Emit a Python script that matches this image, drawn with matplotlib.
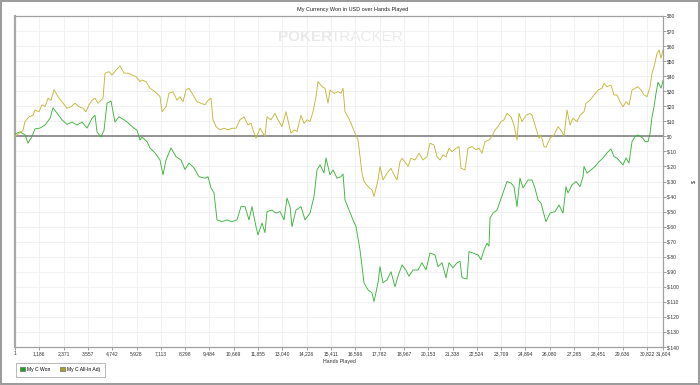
import matplotlib
matplotlib.use('Agg')
import matplotlib.pyplot as plt
from matplotlib.patches import Patch, Rectangle
from matplotlib.ticker import FixedLocator, FuncFormatter

plt.rcParams['font.family'] = ['Liberation Sans', 'DejaVu Sans']

# ---------------- data ----------------
won_hands = [1, 245, 489, 635, 830, 976, 1220, 1464, 1708, 1854, 2049, 2293, 2537, 2781, 3025,
             3268, 3512, 3756, 3903, 4000, 4195, 4342, 4488, 4683, 4878, 5073, 5317, 5512, 5756,
             5951, 6098, 6195, 6439, 6585, 6829, 7073, 7219, 7365, 7609, 7853, 8097, 8292, 8487,
             8731, 8975, 9268, 9414, 9560, 9707, 9853, 10097, 10340, 10584, 10828, 11023, 11218,
             11413, 11560, 11755, 11852, 12047, 12193, 12291, 12535, 12730, 12925, 13120, 13267,
             13413, 13510, 13706, 13950, 14145, 14389, 14584, 14730, 14877, 15072, 15169, 15364,
             15511, 15706, 15901, 15999, 16096, 16291, 16486, 16632, 16827, 16925, 17022, 17217,
             17412, 17510, 17705, 17802, 17948, 18143, 18338, 18534, 18680, 18875, 19070, 19216,
             19411, 19655, 19850, 20045, 20240, 20484, 20631, 20826, 21021, 21167, 21362, 21557,
             21703, 21801, 22045, 22142, 22337, 22581, 22728, 22874, 23020, 23118, 23167, 23313,
             23508, 23654, 23801, 23996, 24191, 24337, 24484, 24630, 24776, 25020, 25216, 25362,
             25508, 25654, 25801, 25898, 26093, 26337, 26532, 26728, 26874, 26972, 27166, 27361,
             27557, 27703, 27752, 27898, 28094, 28289, 28484, 28679, 28873, 29069, 29215, 29361,
             29508, 29654, 29800, 29947, 30093, 30239, 30386, 30484, 30630, 30728, 30874, 30972,
             31069, 31167, 31264, 31362, 31508, 31604]
won_values = [1.5, 3, 1, -4.5, 0, 5, 5.5, 7.5, 12, 19, 15.5, 11, 8, 9.5, 7.5,
              9.5, 5.5, 12, 14, 3, -0.5, 4, 22, 23.5, 9.5, 13, 11, 9, 6,
              4, -2.5, -0.5, -3.5, -7.7, -11, -15.7, -25.6, -15.7, -7.7, -13.5, -15.7, -22, -17.7,
              -21, -26.8, -27.8, -26.8, -34.3, -37.6, -55.5, -56.7, -55.5, -56.7, -55.5, -46.7, -46.7,
              -55.5, -46.7, -60, -65.5, -57.6, -64, -50, -49, -51, -50, -55.5, -41,
              -46.7, -60, -49, -46.7, -55.5, -51, -40, -22.3, -19, -24.3, -14.4, -25.6,
              -22.3, -27.8, -26.8, -25, -42.3, -49, -55.5, -60, -75.5, -86.6, -97.4, -102,
              -104, -109.8, -97.4, -86.6, -97.4, -95.4, -90, -100, -93, -85.4, -89, -93,
              -88.8, -88.8, -84, -88.8, -77.5, -78.8, -86.6, -84, -94, -84, -87.4, -84,
              -83, -94, -94.7, -76.6, -77.5, -78.8, -82, -75.5, -71, -73, -54.3, -51,
              -49, -43.4, -37.6, -30, -31, -33.4, -46.7, -27.8, -34.3, -29, -29, -34.5,
              -42.3, -44.3, -52, -56.7, -51, -50, -45.6, -51, -33.4, -37.6, -32.3, -30,
              -33.4, -26.8, -20, -24.4, -22.3, -20, -16.8, -14.4, -11, -8.4, -13.5, -14.4,
              -16.8, -19, -14.4, -17.7, -3.5, 0, 1, 0, -1.3, -3.5, -3.5, 2,
              13, 19.7, 28.6, 36, 32, 37]

adj_hands = [1, 196, 391, 489, 684, 879, 976, 1171, 1318, 1464, 1610, 1757, 1903, 2098, 2293,
             2537, 2732, 2927, 3122, 3317, 3464, 3610, 3756, 3903, 4049, 4195, 4293, 4390, 4585,
             4732, 4927, 5122, 5317, 5512, 5707, 5902, 6098, 6195, 6390, 6585, 6829, 7073, 7170,
             7365, 7512, 7707, 7902, 8048, 8194, 8341, 8487, 8682, 8877, 9072, 9268, 9414, 9560,
             9658, 9804, 10000, 10194, 10389, 10584, 10779, 10974, 11169, 11364, 11511, 11608,
             11755, 11950, 12193, 12291, 12486, 12681, 12828, 13023, 13218, 13364, 13462, 13608,
             13754, 13950, 14096, 14243, 14389, 14535, 14682, 14779, 14974, 15120, 15267, 15364,
             15560, 15755, 15901, 15999, 16096, 16243, 16389, 16583, 16730, 16827, 16925, 17022,
             17217, 17412, 17510, 17705, 17802, 17948, 18143, 18338, 18485, 18631, 18777, 18875,
             19070, 19167, 19314, 19509, 19704, 19899, 20094, 20240, 20435, 20582, 20728, 20875,
             21021, 21167, 21314, 21509, 21654, 21752, 21947, 22093, 22289, 22484, 22630, 22776,
             22923, 23118, 23264, 23411, 23557, 23703, 23850, 23996, 24191, 24337, 24484, 24581,
             24728, 24923, 25118, 25216, 25313, 25459, 25557, 25654, 25801, 25898, 26093, 26288,
             26484, 26679, 26776, 26923, 27069, 27215, 27410, 27557, 27752, 27849, 28045, 28240,
             28435, 28630, 28728, 28873, 29069, 29215, 29361, 29508, 29654, 29800, 29947, 30093,
             30239, 30386, 30532, 30679, 30825, 30972, 31069, 31167, 31313, 31410, 31508, 31604]
adj_values = [0, 2, 4, 9.8, 13, 14, 17.5, 16.4, 21, 19.7, 25.3, 24, 31, 26.4, 23,
              18.7, 19.7, 22, 19.7, 18.7, 16.4, 21, 24, 25.3, 22, 24, 25.3, 42, 43,
              40.8, 44, 46.8, 42, 42, 40.8, 39.7, 36.4, 37.5, 36.4, 32, 29.7, 26.4, 16.4,
              19.7, 28.6, 29.7, 24, 26.4, 23, 30.8, 32, 27.5, 23, 22, 21, 24, 25.3,
              11, 6.5, 4.3, 5.4, 4.3, 5.4, 5.4, 11, 13, 7.6, 8.7, 4.3,
              -1.3, 5.4, 0, 13, 11, 15.3, 11, 6.5, 16.4, 7.6, 2, 4.3,
              3.2, 14, 8.7, 11, 9.8, 16.4, 26.4, 36.4, 33, 32, 22, 30.8,
              28.6, 29.7, 28.6, 32, 16.4, 13, 8.7, 2, -2.4, -13.5, -24.5, -30,
              -33.4, -35.6, -40, -29, -20, -29, -24.5, -21.2, -25.6, -29, -16.8, -14.6,
              -17.9, -20, -14.6, -15.7, -11.2, -15.7, -13.5, -4.6, -5.7, -13.5, -15.7, -12.4,
              -13.5, -7.9, -10.2, -7.9, -6.8, -21.2, -22.3, -7.9, -6.8, -9, -7.9, -11.2,
              -3.5, -2.4, 0, 4.3, 6.5, 9.8, 11, 15.3, 13, 7.6, -2.4, 15.3,
              9.8, 14, 15.3, 14, 9.8, 3.1, -1.3, 1, -6.8, -7.2, -1.3, 1,
              6.5, 3.1, 0, 17.5, 7.6, 12, 9.8, 14, 16.4, 22, 24, 27.5,
              30.8, 32, 35.3, 33, 34.1, 27.5, 27.5, 23, 19.7, 23, 20.9, 30.8,
              32, 33, 30.8, 27.5, 26.4, 33, 42, 46.3, 55.2, 57.4, 51.9, 57.4]

x_ticks = [1, 1186, 2371, 3557, 4742, 5928, 7113, 8298, 9484, 10669, 11855, 13040, 14226,
           15411, 16596, 17782, 18967, 20153, 21338, 22524, 23709, 24894, 26080, 27265,
           28451, 29636, 30822, 31604]
y_ticks = list(range(80, -150, -10))
series_labels = ['My C Won', 'My C All-In Adj']

# ---------------- figure ----------------
W, H = 700, 385
fig = plt.figure(figsize=(7, 3.85), dpi=100)
fig.patch.set_facecolor('white')
ax = fig.add_axes([15 / W, 1 - 347 / H, 648 / W, 331 / H])

green = '#3cb43c'
olive = '#c2b83a'
ax.plot(won_hands, won_values, color=green, lw=0.65, zorder=3)
ax.plot(adj_hands, adj_values, color=olive, lw=0.65, zorder=3)
ax.axhline(0, color='#8a8a8a', lw=1.3, zorder=2)

ax.set_xlim(1, 31604)
ax.set_ylim(-140, 80)
ax.xaxis.set_major_locator(FixedLocator(x_ticks))
ax.xaxis.set_major_formatter(FuncFormatter(lambda v, p: f"{int(round(v)):,}"))
ax.yaxis.set_major_locator(FixedLocator(y_ticks))
ax.yaxis.set_major_formatter(FuncFormatter(lambda v, p: f"${int(round(v))}"))
ax.yaxis.tick_right()
ax.yaxis.set_label_position('right')
ax.set_ylabel('$', fontsize=4, rotation=90, labelpad=8, color='#333333')
ax.set_xlabel('Hands Played', fontsize=3.8, labelpad=1.5, color='#333333', x=0.5)

ax.grid(True, color='#efefef', lw=0.6, zorder=0)
ax.set_axisbelow(True)
ax.tick_params(axis='both', labelsize=3.6, length=2.2, width=0.5, color='#777777',
               labelcolor='#333333', pad=1)

for s in ['top', 'bottom', 'right']:
    ax.spines[s].set_color('#a0a0a0')
    ax.spines[s].set_linewidth(0.9)
ax.spines['left'].set_color('#a8a8a8')
ax.spines['left'].set_linewidth(1.6)

# title
fig.text(353 / W, 1 - 9.5 / H, 'My Currency Won in USD over Hands Played', fontsize=4,
         ha='center', va='center', color='#222222')

# watermark
fig.text(278 / W, 1 - 37 / H, 'POKER', fontsize=11, fontweight='bold', color='#e9e9e9',
         ha='left', va='center', zorder=0)
fig.text(331 / W, 1 - 37 / H, 'TRACKER', fontsize=11, color='#ebebeb',
         ha='left', va='center', zorder=0)

# legend
handles = [Patch(facecolor='#22a022', edgecolor='#555555', lw=0.4),
           Patch(facecolor='#a8a020', edgecolor='#555555', lw=0.4)]
leg = fig.legend(handles, series_labels, loc='lower left',
                 bbox_to_anchor=(13 / W, 1 - 379 / H), ncol=2, fontsize=3.6,
                 frameon=True, fancybox=False, edgecolor='#999999',
                 handlelength=0.9, handleheight=0.9, handletextpad=0.5,
                 columnspacing=2.0, borderpad=0.9)
leg.get_frame().set_linewidth(0.6)

# outer border
fig.patches.append(Rectangle((0.001, 0.002), 0.997, 0.996, transform=fig.transFigure,
                             fill=False, edgecolor='#9a9a9a', lw=1.4))

fig.savefig('out.png', dpi=100)
